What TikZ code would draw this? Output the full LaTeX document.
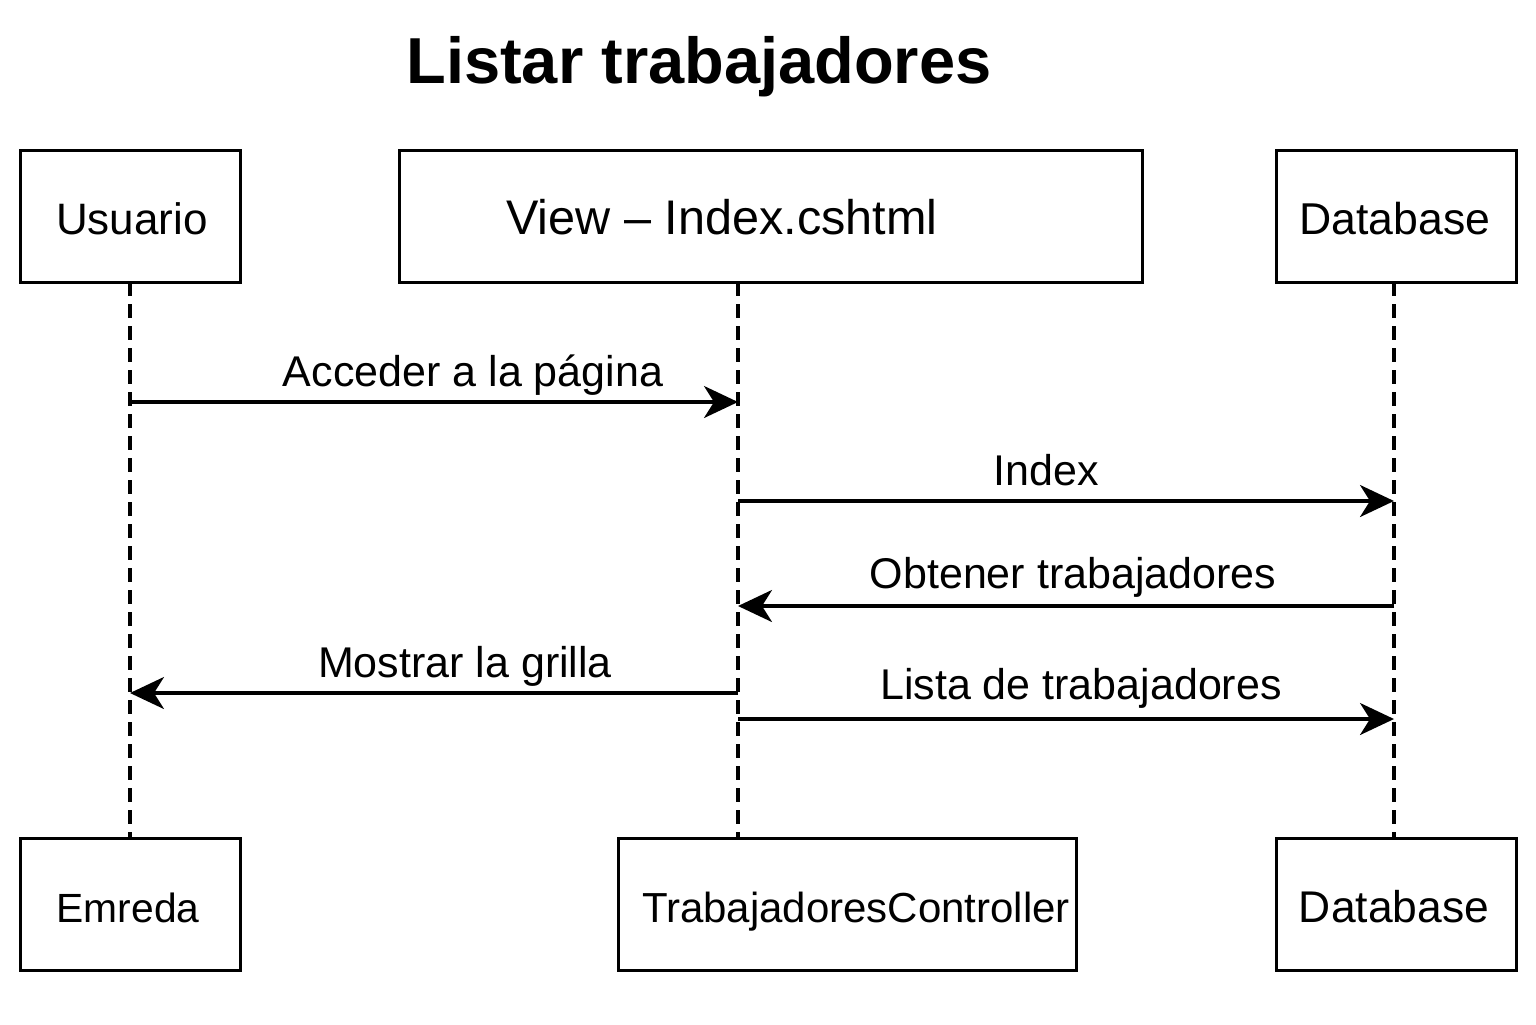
\documentclass[tikz,border=0pt]{standalone}
\usepackage{fontspec}
\setmainfont{Liberation Sans}
\usetikzlibrary{arrows.meta}
\begin{document}
\begin{tikzpicture}[x=0.5pt,y=-0.5pt,
  actor/.style={draw,line width=1.5pt,inner sep=0pt,font=\fontsize{22}{26}\selectfont},
  life/.style={line width=1.7pt,dash pattern=on 7pt off 4pt},
  msg/.style={line width=1.6pt,-{Stealth[length=17pt,width=16pt,inset=5pt]}},
  lbl/.style={anchor=base,font=\fontsize{21.5}{26}\selectfont,inner sep=0pt}]
\useasboundingbox (0,0) rectangle (1536,1024);
% title
\node[anchor=base,font=\bfseries\fontsize{32.5}{38}\selectfont,inner sep=0pt] (title) at (699,83) {Listar trabajadores};
% top boxes
\node[actor,minimum width=110pt,minimum height=66pt] (usr) at (130,216) {};
\node[lbl,font=\fontsize{22}{26}\selectfont] (usrt) at (132,234) {Usuario};
\node[actor,minimum width=371.5pt,minimum height=66pt] (view) at (770.5,216) {};
\node[lbl,font=\fontsize{24.3}{28}\selectfont] (viewt) at (722,234) {View – Index.cshtml};
\node[actor,minimum width=120pt,minimum height=66pt] (db1) at (1396,216) {};
\node[lbl,font=\fontsize{22.3}{26}\selectfont] (db1t) at (1395,234) {Database};
% bottom boxes
\node[actor,minimum width=110pt,minimum height=66pt] (emr) at (130,904) {};
\node[lbl,font=\fontsize{20.4}{26}\selectfont] (emrt) at (128,922) {Emreda};
\node[actor,minimum width=229pt,minimum height=66pt] (ctrl) at (847,904) {};
\node[lbl,font=\fontsize{21}{26}\selectfont] (ctrlt) at (856,922) {TrabajadoresController};
\node[actor,minimum width=120pt,minimum height=66pt] (db2) at (1396,904) {};
\node[lbl,font=\fontsize{22.2}{26}\selectfont] (db2t) at (1394,922) {Database};
% lifeline coordinates
\coordinate (a0) at (130,282); \coordinate (a1) at (130,838);
\coordinate (b0) at (738,282); \coordinate (b1) at (738,838);
\coordinate (c0) at (1394,282); \coordinate (c1) at (1394,838);
\draw[life] (a0) -- (a1);
\draw[life] (b0) -- (b1);
\draw[life] (c0) -- (c1);
% message points
\coordinate (m1a) at (130,402); \coordinate (m1b) at (738,402);
\coordinate (m2a) at (738,501); \coordinate (m2b) at (1394,501);
\coordinate (m3a) at (1394,606); \coordinate (m3b) at (738,606);
\coordinate (m4a) at (738,693); \coordinate (m4b) at (130,693);
\coordinate (m5a) at (738,719); \coordinate (m5b) at (1394,719);
\draw[msg] (m1a) -- (m1b);
\draw[msg] (m2a) -- (m2b);
\draw[msg] (m3a) -- (m3b);
\draw[msg] (m4a) -- (m4b);
\draw[msg] (m5a) -- (m5b);
\node[lbl] (l1) at (473,386) {Acceder a la página};
\node[lbl] (l2) at (1046,485) {Index};
\node[lbl] (l3) at (1073,588) {Obtener trabajadores};
\node[lbl] (l4) at (465,677) {Mostrar la grilla};
\node[lbl] (l5) at (1081,699) {Lista de trabajadores};
\end{tikzpicture}
\end{document}
